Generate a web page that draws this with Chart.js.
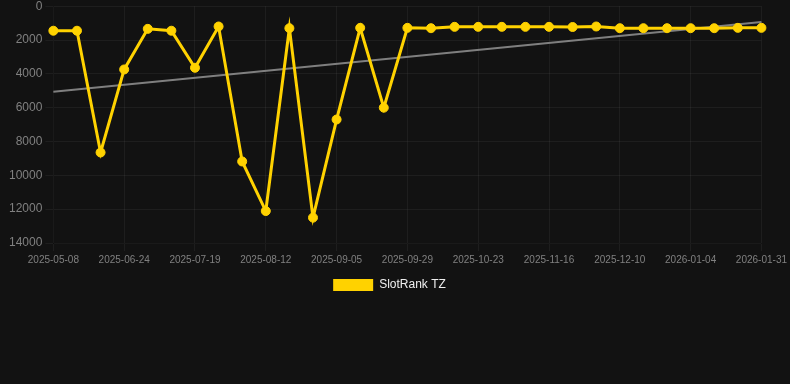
<!DOCTYPE html>
<html>
<head>
<meta charset="utf-8">
<script src="https://cdn.jsdelivr.net/npm/chart.js@4/dist/chart.umd.min.js"></script>
<style>
    html, body { margin: 0; padding: 0; background: #121212; overflow: hidden; }
    .chart-wrap { position: relative; width: 790px; height: 305px; margin-top: -4px; }
</style>
</head>
<body>
<div class="chart-wrap">
    <canvas id="rankChart"></canvas>
</div>
<script>
// Dates (every third one is read from the axis, the rest estimated)
const dates = [
    '2025-05-08', '2025-05-24', '2025-06-09', '2025-06-24', '2025-07-02', '2025-07-10',
    '2025-07-19', '2025-07-27', '2025-08-04', '2025-08-12', '2025-08-20', '2025-08-28',
    '2025-09-05', '2025-09-13', '2025-09-21', '2025-09-29', '2025-10-07', '2025-10-15',
    '2025-10-23', '2025-10-31', '2025-11-08', '2025-11-16', '2025-11-24', '2025-12-02',
    '2025-12-10', '2025-12-18', '2025-12-27', '2026-01-04', '2026-01-13', '2026-01-22',
    '2026-01-31'
];

// SlotRank TZ position
const rankValues = [
    1450, 1450, 8650, 3740, 1340, 1450, 3640, 1200, 9180, 12110, 1300,
    12500, 6700, 1280, 6000, 1280, 1300, 1220, 1220, 1220, 1220, 1220,
    1230, 1200, 1300, 1300, 1300, 1300, 1300, 1280, 1280
];

// Trend line, only the two ends
const trendValues = [5060].concat(new Array(29).fill(null), [930]);

const yTicks = [0, 2000, 4000, 6000, 8000, 10000, 12000, 14000];

document.addEventListener('DOMContentLoaded', function() {
    const ctx = document.getElementById('rankChart').getContext('2d');

    new Chart(ctx, {
        type: 'line',
        data: {
            labels: dates,
            datasets: [
                {
                    label: 'SlotRank TZ',
                    data: rankValues,
                    borderColor: '#ffd200',
                    backgroundColor: '#ffd200',
                    borderWidth: 3,
                    pointRadius: 4.5,
                    pointBorderWidth: 1,
                    pointBackgroundColor: '#ffd200',
                    pointBorderColor: '#ffd200',
                    tension: 0,
                    order: 1
                },
                {
                    label: 'trend',
                    data: trendValues,
                    borderColor: 'rgba(140, 140, 140, 0.9)',
                    borderWidth: 2,
                    pointRadius: 0,
                    spanGaps: true,
                    fill: false,
                    order: 2
                }
            ]
        },
        options: {
            responsive: true,
            maintainAspectRatio: false,
            animation: false,
            layout: {
                padding: { left: 6, right: 17 }
            },
            plugins: {
                legend: {
                    position: 'bottom',
                    labels: {
                        color: '#f0f0f0',
                        font: { size: 12 },
                        filter: item => item.text !== 'trend',
                        generateLabels: function(chart) {
                            const items = Chart.defaults.plugins.legend.labels.generateLabels(chart);
                            items.forEach(item => { item.lineWidth = 0; });
                            return items;
                        }
                    }
                },
                tooltip: { enabled: false }
            },
            scales: {
                x: {
                    grid: { color: 'rgba(255, 255, 255, 0.05)' },
                    ticks: {
                        color: '#808080',
                        font: { size: 10 },
                        autoSkip: false,
                        maxRotation: 0,
                        callback: function(value, index) {
                            return index % 3 === 0 ? this.getLabelForValue(value) : null;
                        }
                    }
                },
                y: {
                    reverse: true,
                    min: yTicks[0],
                    max: yTicks[yTicks.length - 1],
                    grid: { color: 'rgba(255, 255, 255, 0.05)' },
                    afterBuildTicks: axis => {
                        axis.ticks = yTicks.map(v => ({ value: v }));
                    },
                    ticks: {
                        color: '#808080',
                        font: { size: 12 },
                        callback: value => String(value)
                    }
                }
            }
        }
    });
});
</script>
</body>
</html>
